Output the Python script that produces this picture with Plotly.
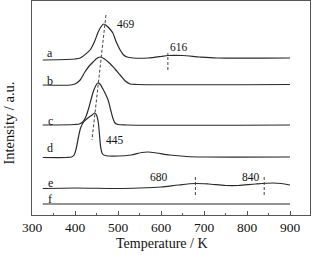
import plotly.graph_objects as go

# Temperature (K) / intensity (a.u., stacked)
T_a = [325, 380, 400, 412, 425, 435, 445, 453, 460, 467, 474, 481, 488, 496, 505, 513, 521, 535, 570, 600, 616, 650, 690, 730, 900]
I_a = [155, 155.5, 156, 157, 161, 165, 173, 182, 188, 191, 189, 186, 182, 173, 165, 160, 158, 157, 157, 158.5, 159.5, 159.5, 158, 157, 157]

T_b = [325, 390, 400, 412, 423, 433, 442, 452, 460, 467, 480, 493, 505, 517, 528, 545, 900]
I_b = [130, 130, 131, 135, 143, 149, 153, 157, 158, 156.5, 152, 146, 140, 134, 131, 130.5, 130.5]

T_c = [325, 400, 410, 418, 425, 432, 437, 443, 448, 453, 458, 465, 472, 477, 483, 488, 493, 500, 520, 900]
I_c = [90, 90.5, 91, 93, 98, 107, 115, 124, 129, 132, 131, 126, 120, 115, 105, 97, 92, 90.5, 90, 90]

T_d = [325, 380, 392, 398, 403, 408, 413, 420, 430, 440, 446, 450, 454, 457, 460, 464, 470, 500, 530, 555, 570, 590, 620, 660, 700, 900]
I_d = [57.5, 57.5, 58, 60, 67, 78, 87, 93, 97, 100, 102, 100, 93, 80, 67, 61, 59.5, 59, 60, 62.5, 63, 62, 60, 58.5, 58, 58]

T_e = [325, 400, 500, 550, 600, 640, 680, 710, 750, 780, 820, 860, 880, 900]
I_e = [26.5, 27, 26.5, 27, 28, 30, 31.5, 31, 29.5, 29.5, 31, 32, 31.5, 30]

T_f = [325, 900]
I_f = [11, 11]

curve_labels = ["a", "b", "c", "d", "e", "f"]
label_T = [343, 343, 343, 343, 343, 343]
label_I = [162.5, 134.5, 94.5, 67.5, 32.5, 16.5]

peak_labels = ["469", "616", "445", "680", "840"]
peak_label_T = [493, 616, 467, 570, 784]
peak_label_I = [191, 168, 75, 38, 38]

# dashed marker lines
shift_line_T = [472, 439.5]
shift_line_I = [200, 75]
vmark_T = [616, 680, 840]
vmark_I0 = [145, 20, 20]
vmark_I1 = [162, 40, 40]

LINE = "#2a2a2a"
FONT = "Liberation Serif"

fig = go.Figure()
for T, I in [(T_a, I_a), (T_b, I_b), (T_c, I_c), (T_d, I_d), (T_e, I_e), (T_f, I_f)]:
    fig.add_trace(go.Scatter(x=T, y=I, mode="lines", line=dict(color=LINE, width=1.2, shape="spline", smoothing=0.8),
                             showlegend=False, hoverinfo="skip"))

fig.add_trace(go.Scatter(x=shift_line_T, y=shift_line_I, mode="lines", hoverinfo="skip",
                         line=dict(color="#444", width=1, dash="3px,2px"), showlegend=False))
for t, i0, i1 in zip(vmark_T, vmark_I0, vmark_I1):
    fig.add_trace(go.Scatter(x=[t, t], y=[i0, i1], mode="lines", hoverinfo="skip",
                             line=dict(color="#444", width=1, dash="3px,2px"), showlegend=False))

for txt, t, i in zip(curve_labels, label_T, label_I):
    fig.add_annotation(x=t, y=i, text=txt, showarrow=False, xanchor="center", yanchor="middle",
                       font=dict(family=FONT, size=12, color="#111"))
for txt, t, i in zip(peak_labels, peak_label_T, peak_label_I):
    fig.add_annotation(x=t, y=i, text=txt, showarrow=False, xanchor="left", yanchor="middle",
                       font=dict(family=FONT, size=11.5, color="#111"))

fig.add_annotation(xref="paper", yref="paper", x=(161.7 - 32) / 278, y=(215 - 243) / 214,
                   text="Temperature / K", showarrow=False, xanchor="center", yanchor="middle",
                   font=dict(family=FONT, size=14, color="#111"))
fig.add_annotation(xref="paper", yref="paper", x=(8 - 32) / 278, y=(215 - 123.5) / 214,
                   text="Intensity / a.u.", showarrow=False, textangle=-90, xanchor="center", yanchor="middle",
                   font=dict(family=FONT, size=14.5, color="#111"))

fig.update_layout(
    width=314, height=255,
    margin=dict(l=32, r=4, t=1, b=40),
    paper_bgcolor="white", plot_bgcolor="white",
    hovermode=False,
    xaxis=dict(range=[300, 946.5], tickmode="array", tickvals=[300, 400, 500, 600, 700, 800, 900],
               ticks="inside", ticklen=4, tickcolor="#555", tickwidth=1,
               minor=dict(tickvals=[350, 450, 550, 650, 750, 850], ticks="inside", ticklen=2, tickcolor="#555"),
               showline=True, linecolor="#555", linewidth=1, mirror=True, showgrid=False, zeroline=False,
               automargin=False,
               tickfont=dict(family=FONT, size=13.5, color="#111")),
    yaxis=dict(range=[0, 214], showticklabels=False, ticks="", showline=True, linecolor="#555",
               linewidth=1, mirror=True, showgrid=False, zeroline=False, automargin=False),
)
fig.write_html("out.html", config={"displayModeBar": False, "staticPlot": True},
               post_script="document.body.style.margin='0';document.body.style.overflow='hidden';")
